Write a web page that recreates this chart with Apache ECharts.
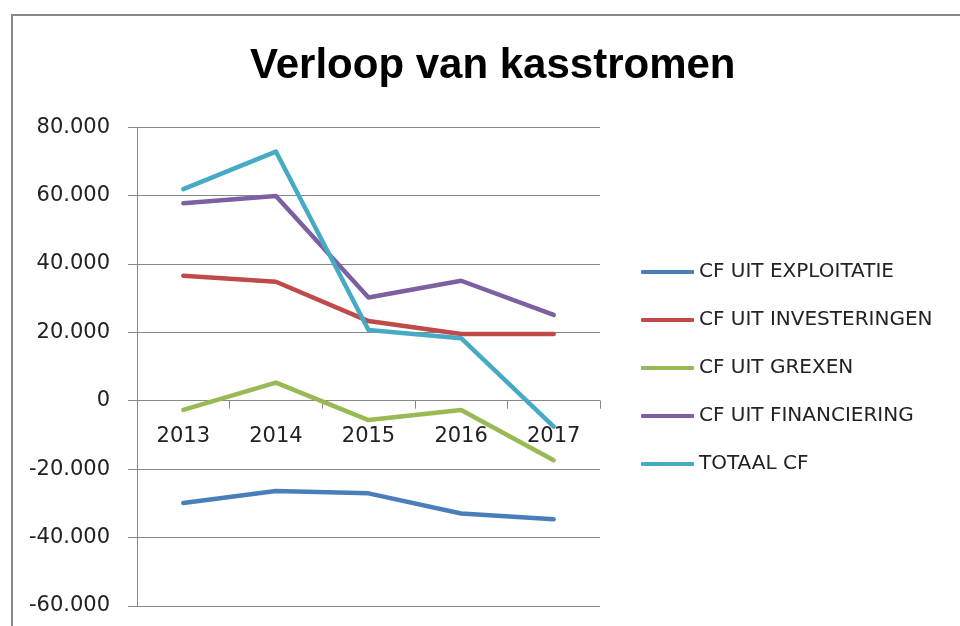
<!DOCTYPE html>
<html>
<head>
<meta charset="utf-8">
<script src="https://cdn.jsdelivr.net/npm/echarts@6/dist/echarts.min.js"></script>
<style>
html,body{margin:0;padding:0;background:#fff;}
#chart{width:960px;height:626px;}
</style>
</head>
<body>
<div id="chart"></div>
<script>
const categories = ['2013', '2014', '2015', '2016', '2017'];
const seriesNames = ['CF UIT EXPLOITATIE', 'CF UIT INVESTERINGEN', 'CF UIT GREXEN', 'CF UIT FINANCIERING', 'TOTAAL CF'];
const cfExploitatie = [-29900, -26400, -27100, -33000, -34700];
const cfInvesteringen = [36600, 34800, 23300, 19500, 19500];
const cfGrexen = [-2700, 5300, -5650, -2700, -17400];
const cfFinanciering = [57800, 59900, 30200, 35100, 25100];
const totaalCf = [61900, 72900, 20700, 18300, -7600];
const yMin = -60000, yMax = 80000, yStep = 20000;
const colors = ['#4A7EBB', '#BE4B48', '#98B954', '#7D60A0', '#46AAC5'];

const seriesData = [cfExploitatie, cfInvesteringen, cfGrexen, cfFinanciering, totaalCf];

function fmt(v) {
  if (v === 0) return '0';
  return (v < 0 ? '-' : '') + (Math.abs(v) / 1000) + '.000';
}

const gridTop = 127.3, gridBottomPx = 605.8;
const zeroOffset = (gridBottomPx - gridTop) * (0 - yMin) / (yMax - yMin);

const chart = echarts.init(document.getElementById('chart'), null, {renderer: 'canvas'});
chart.setOption({
  animation: false,
  backgroundColor: '#fff',
  graphic: [{
    type: 'rect',
    shape: {x: 12, y: 15, width: 1000, height: 700},
    style: {fill: 'none', stroke: '#8a8a8a', lineWidth: 2},
    silent: true
  }],
  title: {
    text: 'Verloop van kasstromen',
    left: 245,
    top: 40,
    textStyle: {fontFamily: 'Liberation Sans', fontWeight: 'bold', fontSize: 42, color: '#000'}
  },
  legend: {
    orient: 'vertical',
    left: 636,
    top: 255,
    itemWidth: 53,
    itemHeight: 4,
    itemGap: 24,
    icon: 'roundRect',
    textStyle: {fontFamily: 'DejaVu Sans', fontSize: 20, color: '#222', lineHeight: 24},
    data: seriesNames
  },
  grid: {left: 137, right: 360, top: gridTop, bottom: 626 - gridBottomPx, containLabel: false, outerBoundsMode: 'none'},
  xAxis: [{
    type: 'category',
    data: categories,
    boundaryGap: true,
    axisLine: {onZero: true, lineStyle: {color: '#888', width: 1}},
    axisTick: {show: true, length: 8, lineStyle: {color: '#888'}},
    axisLabel: {show: false},
    splitLine: {show: false}
  }, {
    type: 'category',
    data: categories,
    position: 'bottom',
    offset: -zeroOffset,
    boundaryGap: true,
    axisLine: {show: false, onZero: false},
    axisTick: {show: false},
    axisLabel: {fontFamily: 'DejaVu Sans', fontSize: 21, color: '#222', margin: 25},
    splitLine: {show: false}
  }],
  yAxis: {
    type: 'value',
    min: yMin,
    max: yMax,
    interval: yStep,
    axisLine: {show: true, lineStyle: {color: '#888', width: 1}},
    axisTick: {show: true, length: 9, lineStyle: {color: '#888'}},
    axisLabel: {fontFamily: 'DejaVu Sans', fontSize: 21, color: '#222', margin: 27, formatter: fmt},
    splitLine: {show: true, lineStyle: {color: '#888', width: 1}}
  },
  series: seriesNames.map((name, i) => ({
    name: name,
    type: 'line',
    data: seriesData[i],
    xAxisIndex: 0,
    symbol: 'none',
    color: colors[i],
    lineStyle: {width: 4.5, color: colors[i], cap: 'round', join: 'round'}
  }))
});
</script>
</body>
</html>
